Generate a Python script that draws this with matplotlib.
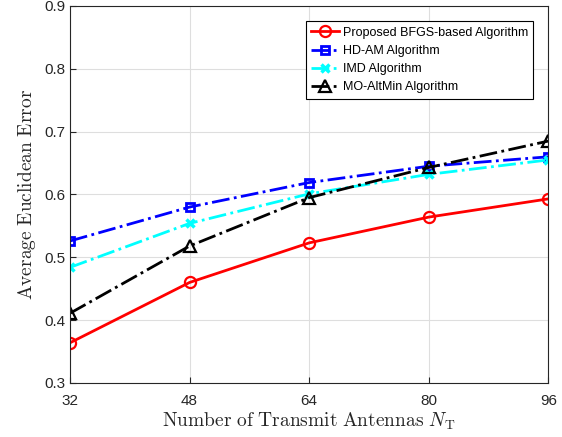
import matplotlib
matplotlib.use("Agg")
import matplotlib.pyplot as plt

plt.rcParams['font.family'] = ['Liberation Sans', 'DejaVu Sans']
plt.rcParams['mathtext.fontset'] = 'cm'

# data
n_t = [32, 48, 64, 80, 96]
bfgs = [0.364, 0.460, 0.523, 0.564, 0.593]
hdam = [0.526, 0.580, 0.619, 0.645, 0.660]
imd = [0.484, 0.554, 0.601, 0.632, 0.655]
moaltmin = [0.411, 0.518, 0.595, 0.643, 0.685]

fig = plt.figure(figsize=(5.62, 4.37), dpi=100)
ax = fig.add_axes([0.1246, 0.1236, 0.851, 0.8627])

ax.plot(n_t, bfgs, '-', color='red', lw=2, marker='o', ms=8, mfc='none', mew=1.6,
        label='Proposed BFGS-based Algorithm')
ax.plot(n_t, hdam, '-.', color='blue', lw=2, marker='s', ms=6, mfc='none', mew=2,
        label='HD-AM Algorithm')
ax.plot(n_t, imd, '-.', color='cyan', lw=2, marker='x', ms=6, mew=2.5,
        label='IMD Algorithm')
ax.plot(n_t, moaltmin, '-.', color='black', lw=2, marker='^', ms=9, mfc='none', mew=1.6,
        label='MO-AltMin Algorithm')

ax.set_xlim(32, 96)
ax.set_ylim(0.3, 0.9)
ax.set_xticks(n_t)
ax.set_yticks([0.3, 0.4, 0.5, 0.6, 0.7, 0.8, 0.9])
ax.tick_params(axis='both', direction='in', labelsize=11, colors='#262626', length=4,
               top=False, right=False)
ax.tick_params(axis='x', pad=8)
ax.grid(True, color='#dedede', lw=0.8)
ax.set_axisbelow(True)
for s in ax.spines.values():
    s.set_color('#262626')
    s.set_linewidth(0.8)

ax.set_xlabel(r'$\mathrm{Number\ of\ Transmit\ Antennas}\ N_{\mathrm{T}}$', fontsize=14,
              color='#262626', labelpad=2)
ax.set_ylabel(r'$\mathrm{Average\ Euclidean\ Error}$', fontsize=14, color='#262626')

leg = ax.legend(loc='upper right', bbox_to_anchor=(0.969, 0.960), fontsize=9, handlelength=2.2,
                handletextpad=0.3, labelspacing=0.5, borderpad=0.45, fancybox=False,
                framealpha=1, edgecolor='black', borderaxespad=0)
leg.get_frame().set_linewidth(0.8)

plt.savefig('out.png', dpi=100)
